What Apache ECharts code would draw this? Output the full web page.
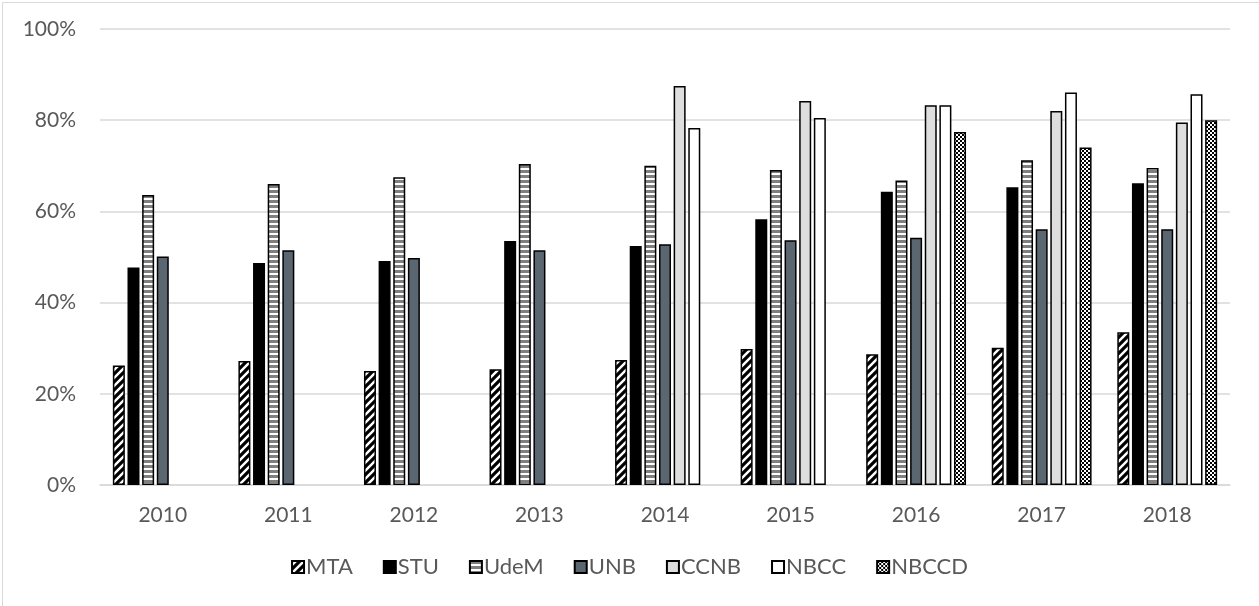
<!DOCTYPE html>
<html>
<head>
<meta charset="utf-8">
<script src="https://cdn.jsdelivr.net/npm/echarts@6/dist/echarts.min.js"></script>
<style>
html,body{margin:0;padding:0;background:#fff;}
#c{width:1259px;height:606px;}
</style>
</head>
<body>
<div id="c"></div>
<script>
const years = ['2010','2011','2012','2013','2014','2015','2016','2017','2018'];
const MTA   = [26.2, 27.2, 25.0, 25.4, 27.4, 29.8, 28.7, 30.1, 33.5];
const STU   = [47.7, 48.7, 49.1, 53.5, 52.4, 58.3, 64.3, 65.3, 66.2];
const UdeM  = [63.6, 66.0, 67.5, 70.4, 70.0, 69.1, 66.8, 71.2, 69.5];
const UNB   = [50.1, 51.5, 49.8, 51.5, 52.8, 53.7, 54.2, 56.1, 56.1];
const CCNB  = [null, null, null, null, 87.5, 84.2, 83.3, 82.0, 79.5];
const NBCC  = [null, null, null, null, 78.3, 80.5, 83.3, 86.1, 85.7];
const NBCCD = [null, null, null, null, null, null, 77.4, 74.0, 80.0];
const yTicks = [0, 20, 40, 60, 80, 100];

function tile(w, h, draw) {
  const cv = document.createElement('canvas');
  cv.width = w; cv.height = h;
  const ctx = cv.getContext('2d');
  ctx.fillStyle = '#fff';
  ctx.fillRect(0, 0, w, h);
  draw(ctx);
  return { image: cv, repeat: 'repeat' };
}
const diag = tile(8, 8, ctx => {
  ctx.strokeStyle = '#000';
  ctx.lineWidth = 3.2;
  ctx.beginPath();
  ctx.moveTo(-2, 10); ctx.lineTo(10, -2);
  ctx.moveTo(-6, 6); ctx.lineTo(6, -6);
  ctx.moveTo(2, 14); ctx.lineTo(14, 2);
  ctx.stroke();
});
const hstripe = tile(4, 5, ctx => {
  ctx.fillStyle = '#7f7f7f';
  ctx.fillRect(0, 0, 4, 3);
});
const checker = tile(4, 4, ctx => {
  ctx.fillStyle = '#000';
  ctx.fillRect(0, 0, 2, 2);
  ctx.fillRect(2, 2, 2, 2);
});

const font = 'Lato';
function bar(name, data, color) {
  return {
    name, type: 'bar', data,
    barWidth: 12, barGap: '22%',
    itemStyle: { color, borderColor: '#000', borderWidth: 1.5 },
    emphasis: { disabled: true }
  };
}

const chart = echarts.init(document.getElementById('c'), null, { renderer: 'canvas' });
chart.setOption({
  animation: false,
  backgroundColor: '#fff',
  graphic: [{
    type: 'rect', left: 0, top: 0, silent: true, z: -10,
    shape: { x: 0.5, y: 0.5, width: 1258, height: 605 },
    style: { fill: 'none', stroke: '#d9d9d9', lineWidth: 1 }
  }],
  grid: { left: 100, right: 29, top: 29, bottom: 121 },
  legend: {
    top: 551, left: 'center',
    itemWidth: 12, itemHeight: 12, itemGap: 30,
    icon: 'rect',
    textStyle: { fontFamily: font, fontSize: 22, color: '#595959', padding: [0, 0, 0, -3] },
    data: ['MTA', 'STU', 'UdeM', 'UNB', 'CCNB', 'NBCC', 'NBCCD']
  },
  xAxis: {
    type: 'category', data: years,
    axisLine: { lineStyle: { color: '#d9d9d9', width: 1.5 } },
    axisTick: { show: false },
    axisLabel: { fontFamily: font, fontSize: 21, color: '#595959', margin: 20 }
  },
  yAxis: {
    type: 'value', min: yTicks[0], max: yTicks[yTicks.length - 1], interval: 20,
    axisLine: { show: false }, axisTick: { show: false },
    splitLine: { lineStyle: { color: '#d9d9d9', width: 1.5 } },
    axisLabel: { fontFamily: font, fontSize: 21, color: '#595959', margin: 24, formatter: '{value}%' }
  },
  series: [
    bar('MTA', MTA, diag),
    bar('STU', STU, '#000'),
    bar('UdeM', UdeM, hstripe),
    bar('UNB', UNB, '#5b6770'),
    bar('CCNB', CCNB, '#dedede'),
    bar('NBCC', NBCC, '#ffffff'),
    bar('NBCCD', NBCCD, checker)
  ]
});
</script>
</body>
</html>
